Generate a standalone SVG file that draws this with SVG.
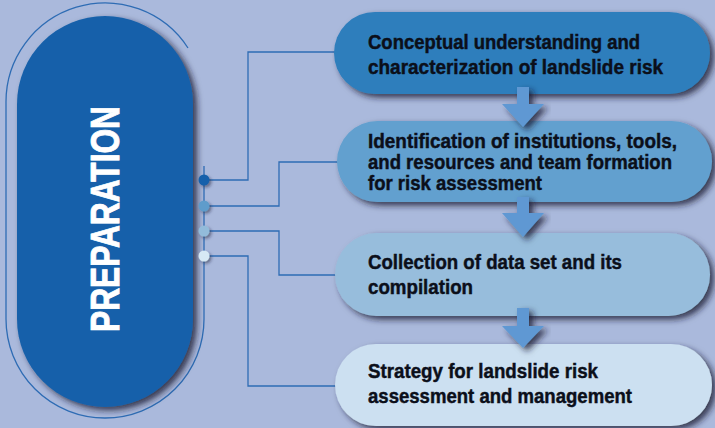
<svg xmlns="http://www.w3.org/2000/svg" width="715" height="428" viewBox="0 0 715 428">
  <defs>
    <filter id="shadow" x="-10%" y="-10%" width="125%" height="130%">
      <feDropShadow dx="4" dy="3.5" stdDeviation="3" flood-color="#161c30" flood-opacity="0.8"/>
    </filter>
    <filter id="dotShadow" x="-100%" y="-100%" width="300%" height="300%">
      <feDropShadow dx="2" dy="2" stdDeviation="1.5" flood-color="#1b2238" flood-opacity="0.5"/>
    </filter>
    <style>
      .wire { fill: none; stroke: #2E6CB4; stroke-width: 1.3; }
      .label { font-family: "Liberation Sans", Arial, sans-serif; font-weight: bold; font-size: 20.5px; fill: #0b0f1a; stroke: #0b0f1a; stroke-width: 0.45; }
      .title { font-family: "Liberation Sans", Arial, sans-serif; font-weight: bold; font-size: 40px; fill: #ffffff; stroke: #ffffff; stroke-width: 0.9; }
      .arrow { fill: #5E98D3; }
    </style>
  </defs>

  <rect width="715" height="428" fill="#AAB9DC"/>

  <!-- outer outline around the main pill -->
  <path class="wire" d="M188,48 A99,99 0 0 0 6,103 L6,319 A99,99 0 0 0 204,319 L204,166" stroke-width="1.1"/>

  <!-- connectors -->
  <g id="connectors">
    <path class="wire" d="M204,180 H248 V52 H336"/>
    <path class="wire" d="M204,206 H279 V162 H338"/>
    <path class="wire" d="M204,231 H279 V275 H336"/>
    <path class="wire" d="M204,256 H248 V386 H336"/>
  </g>

  <!-- main pill -->
  <g id="preparation">
    <rect x="17" y="16" width="176" height="391" rx="88" ry="88" fill="#1560AA" filter="url(#shadow)"/>
    <text class="title" transform="translate(119,219) rotate(-90)" x="0" y="0" text-anchor="middle" textLength="226" lengthAdjust="spacingAndGlyphs">PREPARATION</text>
  </g>

  <!-- connector dots -->
  <g id="dots" filter="url(#dotShadow)">
    <circle cx="204" cy="180" r="5.5" fill="#1560AB"/>
    <circle cx="204" cy="206" r="5.5" fill="#5E9CCB"/>
    <circle cx="204" cy="231" r="5.5" fill="#93BBDA"/>
    <circle cx="204" cy="256" r="5.5" fill="#D6E8F4"/>
  </g>

  <!-- step boxes -->
  <g id="step1">
    <rect x="334" y="12" width="376" height="82" rx="41" ry="41" fill="#2E7EBC" filter="url(#shadow)"/>
    <text class="label" x="368" y="49" textLength="272" lengthAdjust="spacingAndGlyphs">Conceptual understanding and</text>
    <text class="label" x="368" y="73.5" textLength="295" lengthAdjust="spacingAndGlyphs">characterization of landslide risk</text>
  </g>

  <g id="step2">
    <rect x="337" y="121" width="375" height="81" rx="40.5" ry="40.5" fill="#62A0CF" filter="url(#shadow)"/>
    <text class="label" x="368" y="148" textLength="309" lengthAdjust="spacingAndGlyphs">Identification of institutions, tools,</text>
    <text class="label" x="368" y="169" textLength="304" lengthAdjust="spacingAndGlyphs">and resources and team formation</text>
    <text class="label" x="368" y="190" textLength="174" lengthAdjust="spacingAndGlyphs">for risk assessment</text>
  </g>

  <g id="step3">
    <rect x="335" y="233" width="375" height="83" rx="41.5" ry="41.5" fill="#97BDDC" filter="url(#shadow)"/>
    <text class="label" x="368" y="269" textLength="254" lengthAdjust="spacingAndGlyphs">Collection of data set and its</text>
    <text class="label" x="368" y="294" textLength="105" lengthAdjust="spacingAndGlyphs">compilation</text>
  </g>

  <g id="step4">
    <rect x="335" y="344" width="377" height="82" rx="41" ry="41" fill="#CCE0F1" filter="url(#shadow)"/>
    <text class="label" x="368" y="378" textLength="230" lengthAdjust="spacingAndGlyphs">Strategy for landslide risk</text>
    <text class="label" x="368" y="403" textLength="264" lengthAdjust="spacingAndGlyphs">assessment and management</text>
  </g>

  <!-- flow arrows between steps -->
  <g id="flow-arrows" filter="url(#shadow)">
    <path class="arrow" d="M517,87 H529 V104 H544 L523,127 L502,104 H517 Z"/>
    <path class="arrow" d="M517,197 H529 V213 H544 L523,237 L502,213 H517 Z"/>
    <path class="arrow" d="M517,308 H529 V326 H544 L523,348 L502,326 H517 Z"/>
  </g>
</svg>
